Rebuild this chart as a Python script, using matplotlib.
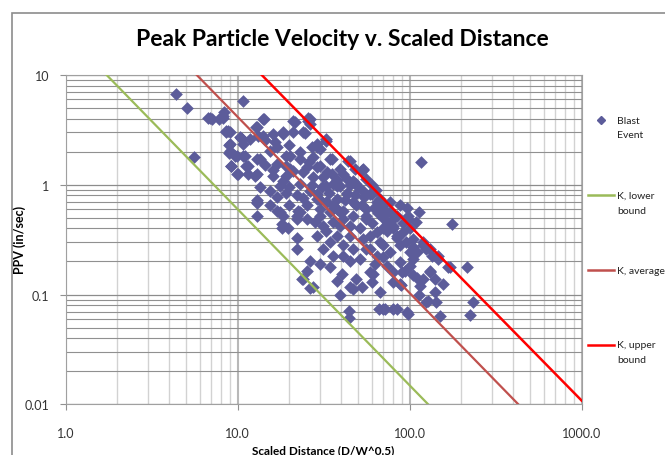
import matplotlib
matplotlib.use("Agg")
import matplotlib.pyplot as plt
from matplotlib.lines import Line2D
from matplotlib.patches import Rectangle

plt.rcParams['font.family'] = ['Lato', 'DejaVu Sans']

# blast events: scaled distance (D/W^0.5) and peak particle velocity (in/sec)
sd = [4.4, 5.05, 5.6, 6.75, 7.06, 6.9, 7.8, 8.3, 8.2, 8.2, 10.8,
      8.5, 9.0, 8.6, 8.8, 8.9, 9.0, 10.4, 10.3, 10.8, 10.6, 11.8,
      8.9, 9.0, 9.9, 9.6, 11.0, 10.8, 9.1, 9.2, 9.9, 10.1, 11.2, 11.5, 11.5,
      12.9, 13.5, 12.6, 12.9, 16.1,
      14.3, 14.1, 12.8, 12.9, 13.2, 14.1, 14.4, 16.5, 16.1, 18.4, 18.4, 21.1, 24.6, 24.0,
      21.5, 21.1, 25.7, 25.7, 26.3, 26.3,
      32.8, 32.6, 28.8, 28.8, 26.9, 30.0, 34.4, 35.3, 44.0, 44.9, 53.5, 53.6, 53.0, 48.0, 27.5,
      15.4, 16.9, 19.2, 20.1, 23.0, 19.2, 21.1, 20.1, 24.0, 27.5, 30.0, 28.8, 25.2, 35.3, 39.3, 43.0, 41.0, 31.5, 47.0, 56.0,
      13.5, 17.6, 18.4, 19.2, 15.4, 12.9, 12.9, 16.9, 16.9, 12.9, 15.4, 18.4, 17.6, 18.0, 19.7, 22.5, 23.0, 23.0, 22.0, 25.2, 22.0, 22.0, 22.0, 22.0,
      37.6, 39.3, 32.8, 36.0, 43.0, 49.0, 53.6, 52.7, 60.0, 58.6, 66.0, 28.8, 26.3, 28.8, 25.2, 32.8, 37.6, 30.0, 39.3, 47.0, 56.0, 30.0, 30.0, 34.4, 43.0,
      115.8, 95.9, 114.0, 177.0, 98.0, 98.0, 108.5, 67.0, 73.5, 84.0, 70.1, 80.0, 91.5, 105.0, 119.0, 111.0, 131.0, 119.0, 134.0, 146.0, 171.0, 214.0, 166.0, 146.0, 131.0, 130.7,
      234.0, 225.0, 125.0, 142.0, 128.0, 140.0, 150.0, 105.0, 125.0, 84.0, 70.0, 80.0, 71.6, 66.4, 84.0, 96.0, 98.0, 44.5, 44.5,
      39.3, 47.0, 52.6, 60.0, 80.0, 89.6, 114.0, 111.0, 119.0, 140.0, 157.0, 88.0, 67.0, 58.6, 100.0,
      30.0, 26.3, 40.2, 34.4, 45.0, 49.0, 61.3, 73.5, 88.0, 94.2, 76.7, 88.0, 100.0, 67.0, 64.3, 73.5, 84.0, 53.6, 47.0, 41.0, 34.4, 31.5, 28.8, 32.8, 39.3, 44.9, 56.0, 76.7, 70.1, 88.0, 49.0, 41.0, 36.0,
      30.0, 28.1, 31.5, 36.0, 41.0, 47.0, 51.4, 58.6, 45.0, 37.6, 41.0, 36.0, 51.4, 64.3, 56.0, 70.1, 80.0, 56.0, 64.3, 76.7, 80.0, 58.6,
      25.2, 23.5, 24.0, 27.5, 26.3, 37.6, 44.9, 12.9, 18.0, 33.0,
      60.0, 64.0, 50.0, 45.0, 38.0, 33.0, 26.0, 23.0, 20.0, 17.0, 62.0, 70.0, 75.0, 92.0, 100.0, 105.0, 95.0, 63.0, 70.0, 80.0, 90.0, 105.0, 115.0,
      60.0, 65.0, 54.0, 48.0, 42.0, 38.0, 34.0, 31.0, 27.0, 24.0, 20.0, 19.0, 16.0, 14.5, 20.0]
ppv = [6.7, 4.97, 1.8, 4.03, 4.0, 4.1, 4.0, 4.6, 4.1, 4.26, 5.76,
       3.0, 3.05, 3.1, 3.1, 2.3, 2.35, 2.67, 2.71, 2.35, 2.61, 2.61,
       1.95, 2.04, 1.84, 1.84, 1.84, 1.82, 1.49, 1.49, 1.25, 1.25, 1.49, 1.49, 1.25,
       1.72, 1.72, 1.21, 1.25, 1.21,
       3.98, 3.98, 3.34, 3.34, 2.8, 2.8, 2.57, 2.44, 2.9, 2.9, 3.0, 3.0, 2.96, 3.0,
       3.76, 3.8, 4.03, 3.8, 3.58, 3.98,
       2.61, 2.52, 2.2, 2.35, 2.2, 2.12, 1.72, 1.72, 1.66, 1.64, 1.39, 1.36, 1.36, 1.39, 1.78,
       2.04, 1.55, 1.84, 1.84, 1.72, 1.49, 1.34, 1.39, 1.3, 1.17, 1.49, 1.44, 1.44, 1.25, 1.39, 1.13, 1.25, 1.17, 1.09, 1.13,
       0.95, 0.98, 1.09, 0.85, 0.88, 0.69, 0.72, 0.77, 0.58, 0.52, 0.65, 0.52, 0.56, 0.44, 0.4, 0.58, 1.02, 0.56, 0.49, 0.49, 0.52, 0.8, 0.33, 0.26,
       0.98, 0.98, 0.98, 1.02, 0.85, 1.02, 0.88, 0.65, 0.82, 0.82, 0.56, 0.82, 0.88, 0.74, 0.65, 0.69, 0.74, 0.72, 0.56, 0.69, 0.52, 0.52, 0.6, 0.56, 0.82,
       1.62, 0.62, 0.57, 0.44, 0.49, 0.52, 0.46, 0.74, 0.56, 0.52, 0.4, 0.4, 0.37, 0.32, 0.3, 0.243, 0.26, 0.28, 0.226, 0.226, 0.18, 0.18, 0.177, 0.21, 0.165, 0.16,
       0.085, 0.065, 0.085, 0.085, 0.087, 0.105, 0.064, 0.21, 0.26, 0.33, 0.074, 0.074, 0.074, 0.074, 0.074, 0.069, 0.067, 0.071, 0.061,
       0.1, 0.112, 0.116, 0.13, 0.131, 0.123, 0.1, 0.14, 0.139, 0.139, 0.125, 0.125, 0.105, 0.16, 0.183,
       0.19, 0.2, 0.154, 0.18, 0.2, 0.139, 0.154, 0.183, 0.197, 0.165, 0.243, 0.28, 0.243, 0.3, 0.37, 0.38, 0.344, 0.32, 0.26, 0.28, 0.3, 0.26, 0.344, 0.38, 0.42, 0.42, 0.49, 0.56, 0.65, 0.65, 0.65, 0.58, 0.65,
       0.72, 0.46, 0.42, 0.46, 0.49, 0.52, 0.4, 0.344, 0.344, 0.344, 0.226, 0.226, 0.21, 0.226, 0.26, 0.28, 0.42, 0.6, 0.69, 0.69, 0.49, 0.26,
       0.165, 0.139, 0.139, 0.116, 0.114, 0.134, 0.116, 0.68, 0.4, 0.69,
       1.0, 0.9, 0.95, 1.0, 1.1, 1.3, 1.6, 2.0, 2.3, 2.2, 0.62, 0.5, 0.45, 0.45, 0.4, 0.27, 0.3, 0.19, 0.22, 0.16, 0.16, 0.15, 0.12,
       0.45, 0.55, 0.78, 0.8, 0.72, 0.6, 0.85, 0.95, 1.0, 0.75, 0.65, 1.2, 1.35, 1.5, 0.95]

# K lines, read where they enter and leave the plot area
k_lower_x = [1.73, 128]
k_lower_y = [10, 0.01]
k_avg_x = [5.78, 428]
k_avg_y = [10, 0.01]
k_upper_x = [13.8, 1000]
k_upper_y = [10, 0.0108]

xticks = [1, 10, 100, 1000]
xtick_labels = ['1.0', '10.0', '100.0', '1000.0']
yticks = [0.01, 0.1, 1, 10]
ytick_labels = ['0.01', '0.1', '1', '10']

pt_color = '#5c5c9a'
green = '#9bbb59'
brown = '#c0504d'
red = '#ff0000'

W, H = 665, 456
fig = plt.figure(figsize=(W / 100, H / 100), dpi=100)
ax = fig.add_axes([65.7 / W, 1 - 405.3 / H, (581.7 - 65.7) / W, (405.3 - 76) / H])

ax.scatter(sd, ppv, marker='D', s=42, color=pt_color, linewidths=0, zorder=3)
ax.plot(k_lower_x, k_lower_y, color=green, lw=1.6, zorder=4)
ax.plot(k_avg_x, k_avg_y, color=brown, lw=1.6, zorder=4)
ax.plot(k_upper_x, k_upper_y, color=red, lw=1.8, zorder=4)

ax.set_xscale('log')
ax.set_yscale('log')
ax.set_xlim(1, 1000)
ax.set_ylim(0.01, 10)
ax.set_xticks(xticks, xtick_labels)
ax.set_yticks(yticks, ytick_labels)
ax.tick_params(which='major', length=4, color='#909090', labelsize=9, labelcolor='#333333')
ax.tick_params(axis='x', pad=12)
ax.tick_params(axis='y', pad=8)
ax.tick_params(which='minor', length=0)

ax.grid(True, which='major', axis='x', color='#b8b8b8', lw=1.5, zorder=0)
ax.grid(True, which='minor', axis='x', color='#d2d2d2', lw=1.0, zorder=0)
ax.grid(True, which='major', axis='y', color='#8c8c8c', lw=0.9, zorder=1)
ax.grid(True, which='minor', axis='y', color='#909090', lw=0.8, zorder=1)
ax.set_axisbelow(True)
for s in ax.spines.values():
    s.set_color('#a0a0a0')
    s.set_linewidth(0.8)

fig.text(342 / W, 1 - 40 / H, 'Peak Particle Velocity v. Scaled Distance',
         ha='center', va='center', fontsize=16.5, fontweight='bold')
fig.text(323 / W, 1 - 451 / H, 'Scaled Distance (D/W^0.5)',
         ha='center', va='center', fontsize=8.5, fontweight='bold')
fig.text(20 / W, 1 - 240 / H, 'PPV (in/sec)', rotation=90,
         ha='center', va='center', fontsize=9, fontweight='bold')

# chart area border
fig.add_artist(Rectangle((12 / W, -0.1), 1.2, 1 - 14 / H + 0.1, transform=fig.transFigure,
                         fill=False, edgecolor='#8c8c8c', lw=1.2))

# legend drawn to the right of the plot
legend_rows = [('marker', pt_color, ['Blast', 'Event'], 121),
               ('line', green, ['K, lower', 'bound'], 196),
               ('line', brown, ['K, average'], 271),
               ('line', red, ['K, upper', 'bound'], 346)]
for kind, col, lines, yy in legend_rows:
    if kind == 'marker':
        fig.add_artist(Line2D([601 / W], [1 - yy / H], marker='D', markersize=4,
                              color=col, linestyle='none'))
    else:
        fig.add_artist(Line2D([588 / W, 614 / W], [1 - yy / H, 1 - yy / H], color=col, lw=1.8))
    for i, t in enumerate(lines):
        fig.text(617 / W, 1 - (yy + 15 * i) / H, t, ha='left', va='center',
                 fontsize=7.5, color='#222222')

fig.savefig('out.png', dpi=100)
